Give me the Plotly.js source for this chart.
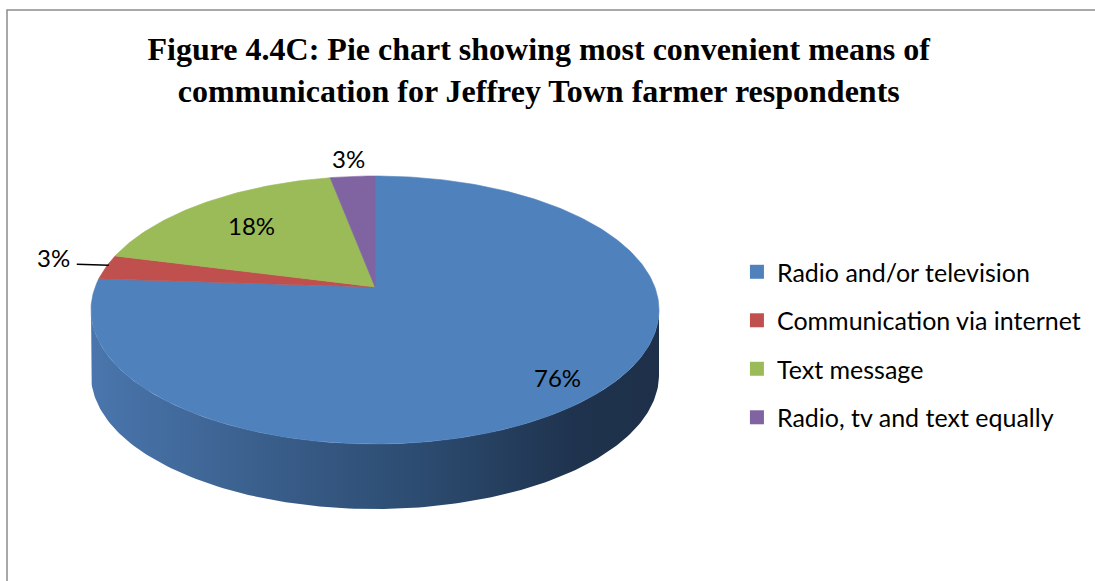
<!DOCTYPE html>
<html>
<head>
<meta charset="utf-8">
<script src="https://cdn.plot.ly/plotly-3.0.1.min.js"></script>
<style>html,body{margin:0;padding:0;background:#fff;}#chart{width:1095px;height:581px;}</style>
</head>
<body>
<div id="chart"></div>
<script>
// ---- Data ----
const categories = ['Radio and/or television', 'Communication via internet', 'Text message', 'Radio, tv and text equally'];
const shares = [76, 3, 18, 3];
const titleText = 'Figure 4.4C: Pie chart showing most convenient means of<br>communication for Jeffrey Town farmer respondents';

// ---- Style ----
const topColors = ['#4f81bd', '#c0504d', '#9bbb59', '#8064a2'];
const sideScales = [
  [[0, '#4a76ad'], [0.3, '#3a5f8c'], [0.6, '#2b4a6e'], [0.85, '#1f334e'], [1, '#1e3049']],
  [[0, '#9a3f3d'], [1, '#5a2322']],
  [[0, '#7c9647'], [1, '#4a5a2a']],
  [[0, '#664f82'], [1, '#3c2f4d']]
];
const labelR = [0.85, 1.2, 0.7, 1.2];
const labelYShift = [0, 6, 0, 0];
const leader = [false, true, false, false];

// 3D pie geometry (pixel space)
const CX = 375, CY = 310, RX = 284, RY = 134, DEPTH = 65, K = -0.172;
function proj(r, deg) {
  const t = deg * Math.PI / 180;
  const u = r * Math.sin(t), v = -r * Math.cos(t);
  const d = 1 + K * v;
  return [CX + RX * u * Math.sqrt(1 - K * K) / d, CY + RY * (v + K) / d];
}
function arc(r, a, b) {
  const pts = [];
  const n = Math.max(2, Math.ceil(Math.abs(b - a)));
  for (let i = 0; i <= n; i++) pts.push(proj(r, a + (b - a) * i / n));
  return pts;
}

const total = shares.reduce((s, v) => s + v, 0);
const starts = [], ends = [];
let cum = 0;
shares.forEach(v => { starts.push(cum / total * 360); cum += v; ends.push(cum / total * 360); });

const traces = [];
const frontA = Math.acos(K) * 180 / Math.PI, frontB = 360 - frontA;

// side walls
shares.forEach((v, i) => {
  const lo = Math.max(starts[i], frontA), hi = Math.min(ends[i], frontB);
  if (lo < hi) {
    const top = arc(1, lo, hi);
    const bot = top.map(p => [p[0], p[1] + DEPTH]).reverse();
    const pts = top.concat(bot);
    pts.push(top[0]);
    traces.push({
      type: 'scatter', mode: 'lines', x: pts.map(p => p[0]), y: pts.map(p => p[1]),
      fill: 'toself', line: {width: 0, color: 'rgba(0,0,0,0)'},
      fillgradient: {type: 'horizontal', colorscale: sideScales[i]},
      showlegend: false, hoverinfo: 'skip'
    });
  }
});

// top faces
shares.forEach((v, i) => {
  const pts = [proj(0, 0)].concat(arc(1, starts[i], ends[i]));
  pts.push(proj(0, 0));
  traces.push({
    type: 'scatter', mode: 'lines', x: pts.map(p => p[0]), y: pts.map(p => p[1]),
    fill: 'toself', fillcolor: topColors[i], line: {width: 0.6, color: topColors[i]},
    showlegend: false, hoverinfo: 'skip'
  });
});

// labels
const annotations = [];
shares.forEach((v, i) => {
  const mid = (starts[i] + ends[i]) / 2;
  const p = proj(labelR[i], mid);
  annotations.push({
    x: p[0], y: p[1], xref: 'x', yref: 'y', showarrow: false,
    text: Math.round(v / total * 100) + '%', yshift: labelYShift[i],
    font: {family: 'Lato, Carlito, sans-serif', size: 24, color: '#000'}
  });
  if (leader[i]) {
    const e = proj(1, mid);
    traces.push({
      type: 'scatter', mode: 'lines', x: [p[0] + 23, e[0] + 3], y: [e[1] - 3, e[1] - 2],
      line: {color: '#000', width: 1.5}, showlegend: false, hoverinfo: 'skip'
    });
  }
});

// legend entries
categories.forEach((c, i) => {
  traces.push({
    type: 'scatter', mode: 'markers', x: [null], y: [null], name: c,
    legendgroup: 'g' + i,
    marker: {symbol: 'square', size: 14, color: topColors[i]}
  });
});

const layout = {
  width: 1095, height: 581, autosize: false,
  margin: {l: 0, r: 0, t: 0, b: 0},
  paper_bgcolor: '#fff', plot_bgcolor: 'rgba(0,0,0,0)',
  title: {
    text: titleText, x: 0.492, xanchor: 'center', y: 0.896, yanchor: 'top', yref: 'container',
    font: {family: 'Liberation Serif, Times New Roman, serif', size: 32, color: '#000', weight: 'bold'}
  },
  xaxis: {range: [0, 1095], visible: false, fixedrange: true},
  yaxis: {range: [581, 0], visible: false, fixedrange: true},
  showlegend: true,
  legend: {
    x: 0.673, xanchor: 'left', y: 0.407, yanchor: 'middle',
    font: {family: 'Lato, Carlito, sans-serif', size: 25, color: '#000'},
    traceorder: 'grouped', tracegroupgap: 13, bgcolor: 'rgba(0,0,0,0)'
  },
  hovermode: false,
  annotations: annotations,
  shapes: [{
    type: 'rect', xref: 'paper', yref: 'paper',
    x0: 7 / 1095, x1: 1.02, y0: -0.02, y1: 1 - 10 / 581,
    line: {color: '#8c8c8c', width: 1.5}, fillcolor: 'rgba(0,0,0,0)', layer: 'below'
  }]
};

Plotly.newPlot('chart', traces, layout, {staticPlot: true, displayModeBar: false});
</script>
</body>
</html>
